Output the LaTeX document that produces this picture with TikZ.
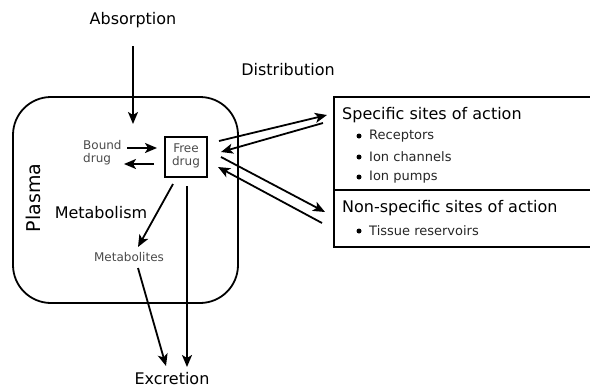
\documentclass[tikz,border=0pt]{standalone}
\usepackage{fontspec}
\setmainfont{DejaVu Sans}
\usetikzlibrary{arrows.meta}
\definecolor{smallgray}{HTML}{4A4A4A}
\tikzset{
  arr/.style={line width=1.8pt,-{Stealth[length=12pt,width=10pt,inset=3pt]}},
  bigtxt/.style={font=\fontsize{16}{18}\selectfont, inner sep=0pt},
  smalltxt/.style={font=\fontsize{12}{13}\selectfont, text=smallgray, inner sep=0pt},
  itemtxt/.style={font=\fontsize{13}{14}\selectfont, text=black!85, inner sep=0pt, anchor=west},
  bul/.style={circle, fill=black, inner sep=0pt, minimum size=5pt},
  box/.style={draw, line width=1.8pt}
}
\begin{document}
\begin{tikzpicture}[x=1pt,y=-1pt]
\useasboundingbox (0,0) rectangle (590,389);
% plasma
\node[draw, line width=1.8pt, rounded corners=38pt, minimum width=225pt, minimum height=206pt] (plasma) at (125.5,200) {};
\node[font=\fontsize{19}{20}\selectfont, rotate=90, inner sep=0pt] (plab) at (33,198) {Plasma};
\node[bigtxt] (metab) at (101,213) {Metabolism};
\node[bigtxt] (abs) at (133,20) {Absorption};
\node[bigtxt] (dist) at (288,70) {Distribution};
\node[bigtxt] (exc) at (172,379) {Excretion};
% free drug
\node[box, minimum width=42pt, minimum height=40pt, inner sep=0pt] (free) at (186,157) {};
\node[smalltxt, align=center] (freetxt) at (186,156) {Free\\drug};
\node[smalltxt, align=left, anchor=west] (bound) at (83,153) {Bound\\drug};
\node[smalltxt] (mets) at (129,257) {Metabolites};
% right boxes
\draw[line width=1.8pt] (595,97) -- (334,97) -- (334,247) -- (595,247);
\draw[line width=1.8pt] (334,190) -- (595,190);
\node[bigtxt, anchor=west] (spec) at (342,115) {Specific sites of action};
\node[bigtxt, anchor=west] (nspec) at (342,208) {Non-specific sites of action};
\node[bul] (b1) at (359,136) {};
\node[itemtxt] (i1) at (369,136) {Receptors};
\node[bul] (b2) at (359,157) {};
\node[itemtxt] (i2) at (369,157) {Ion channels};
\node[bul] (b3) at (359,177) {};
\node[itemtxt] (i3) at (369,177) {Ion pumps};
\node[bul] (b4) at (359,231) {};
\node[itemtxt] (i4) at (369,231) {Tissue reservoirs};
% coordinates
\coordinate (absS) at (133,46);
\coordinate (absE) at (133,124);
\coordinate (bfS) at (127,148);
\coordinate (bfE) at (157,148);
\coordinate (fbS) at (154,164);
\coordinate (fbE) at (124,164);
\coordinate (a1S) at (219,141);
\coordinate (a1E) at (327,115);
\coordinate (a2S) at (323,123);
\coordinate (a2E) at (221,152);
\coordinate (a3S) at (221,157);
\coordinate (a3E) at (325,212);
\coordinate (a4S) at (322,223);
\coordinate (a4E) at (218,167);
\coordinate (fmS) at (173,184);
\coordinate (fmE) at (138,247);
\coordinate (meS) at (138,268);
\coordinate (meE) at (166,366);
\coordinate (feS) at (187,186);
\coordinate (feE) at (187,367);
% arrows
\draw[arr] (absS) -- (absE);
\draw[arr] (bfS) -- (bfE);
\draw[arr] (fbS) -- (fbE);
\draw[arr] (a1S) -- (a1E);
\draw[arr] (a2S) -- (a2E);
\draw[arr] (a3S) -- (a3E);
\draw[arr] (a4S) -- (a4E);
\draw[arr] (fmS) -- (fmE);
\draw[arr] (meS) -- (meE);
\draw[arr] (feS) -- (feE);
\end{tikzpicture}
\end{document}
